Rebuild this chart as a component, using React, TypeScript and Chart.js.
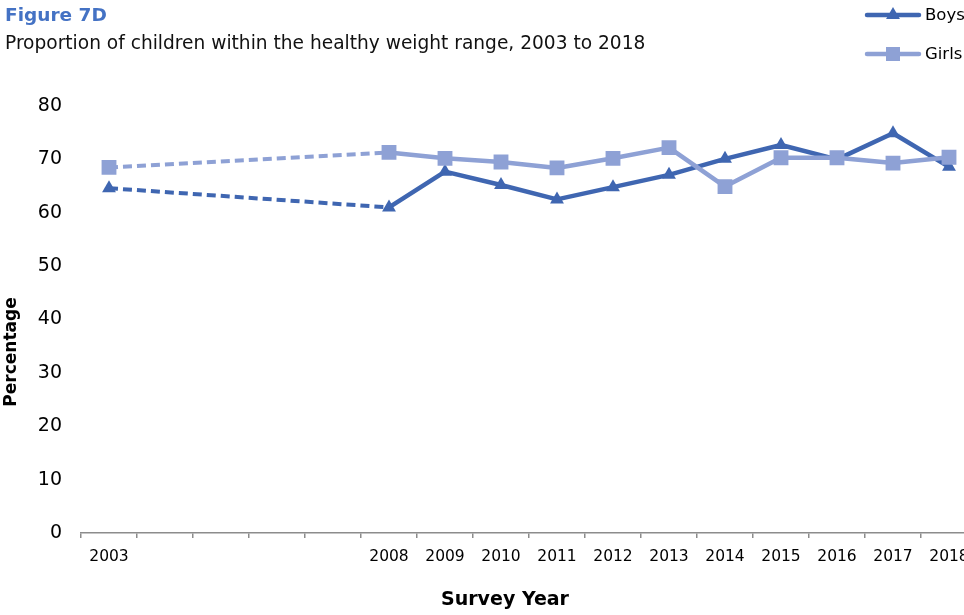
import React, { useEffect, useRef } from "react";
import { Chart, registerables } from "chart.js";

Chart.register(...registerables);

const years = ["2003", "", "", "", "", "2008", "2009", "2010", "2011", "2012", "2013", "2014", "2015", "2016", "2017", "2018"];
const boys = [64.6, null, null, null, null, 61.0, 67.7, 65.2, 62.5, 64.8, 67.1, 70.1, 72.7, 70.0, 74.9, 68.6];
const girls = [68.5, null, null, null, null, 71.3, 70.2, 69.5, 68.4, 70.2, 72.2, 64.9, 70.3, 70.3, 69.3, 70.4];
const yTicks = [0, 10, 20, 30, 40, 50, 60, 70, 80];

const BOYS_COLOR = "#3F66B1";
const GIRLS_COLOR = "#8EA1D5";
const FONT = "'DejaVu Sans', Verdana, sans-serif";
const GAP_END = years.indexOf("2008");

const overlayPlugin = {
  id: "overlay",
  afterDraw(chart: any) {
    const ctx = chart.ctx as CanvasRenderingContext2D;
    ctx.save();
    ctx.textBaseline = "alphabetic";
    ctx.textAlign = "left";
    ctx.fillStyle = "#4472C4";
    ctx.font = `bold 18.5px ${FONT}`;
    ctx.fillText("Figure 7D", 5, 21);
    ctx.fillStyle = "#111";
    ctx.font = `18.6px ${FONT}`;
    ctx.fillText("Proportion of children within the healthy weight range, 2003 to 2018", 5, 49);

    ctx.font = `bold 19px ${FONT}`;
    ctx.textAlign = "center";
    ctx.textBaseline = "middle";
    ctx.fillStyle = "#000";
    ctx.fillText("Survey Year", 505, 600);
    ctx.save();
    ctx.translate(12, 352);
    ctx.rotate(-Math.PI / 2);
    ctx.font = `bold 17px ${FONT}`;
    ctx.fillText("Percentage", 0, 0);
    ctx.restore();

    const items = [
      { label: "Boys", color: BOYS_COLOR, y: 15, shape: "triangle" },
      { label: "Girls", color: GIRLS_COLOR, y: 54, shape: "square" },
    ];
    for (const it of items) {
      ctx.strokeStyle = it.color;
      ctx.lineWidth = 4.5;
      ctx.lineCap = "round";
      ctx.beginPath();
      ctx.moveTo(867, it.y);
      ctx.lineTo(919, it.y);
      ctx.stroke();
      ctx.fillStyle = it.color;
      const cx = 893;
      if (it.shape === "triangle") {
        const r = 8;
        ctx.beginPath();
        ctx.moveTo(cx, it.y - r);
        ctx.lineTo(cx + r * 0.866, it.y + r * 0.5);
        ctx.lineTo(cx - r * 0.866, it.y + r * 0.5);
        ctx.closePath();
        ctx.fill();
      } else {
        ctx.fillRect(cx - 7, it.y - 7, 14, 14);
      }
      ctx.fillStyle = "#000";
      ctx.font = `16.5px ${FONT}`;
      ctx.textAlign = "left";
      ctx.textBaseline = "middle";
      ctx.fillText(it.label, 925, it.y + 1);
    }
    ctx.restore();
  },
};

export default function App() {
  const ref = useRef<HTMLCanvasElement | null>(null);
  useEffect(() => {
    if (!ref.current) return;
    const isGap = (ctx: any) => ctx.p1DataIndex === GAP_END;
    const segment = {
      borderDash: (ctx: any) => (isGap(ctx) ? [9, 5] : undefined),
      borderWidth: (ctx: any) => (isGap(ctx) ? 4 : undefined),
    };
    const chart = new Chart(ref.current, {
      type: "line",
      data: {
        labels: years,
        datasets: [
          {
            label: "Girls",
            data: girls,
            borderColor: GIRLS_COLOR,
            backgroundColor: GIRLS_COLOR,
            borderWidth: 4.5,
            pointStyle: "rect",
            pointRadius: 10.5,
            pointBorderWidth: 0,
            pointBackgroundColor: GIRLS_COLOR,
            spanGaps: true,
            borderJoinStyle: "round",
            borderCapStyle: "butt",
            segment,
            order: 0,
          },
          {
            label: "Boys",
            data: boys,
            borderColor: BOYS_COLOR,
            backgroundColor: BOYS_COLOR,
            borderWidth: 4.5,
            pointStyle: "triangle",
            pointRadius: 8,
            pointBorderWidth: 0,
            pointBackgroundColor: BOYS_COLOR,
            spanGaps: true,
            borderJoinStyle: "round",
            borderCapStyle: "butt",
            segment,
            order: 1,
          },
        ],
      },
      options: {
        responsive: false,
        animation: false,
        layout: { padding: { top: 106, left: 0, right: 13, bottom: 0 } },
        plugins: {
          legend: { display: false },
          title: { display: false },
          tooltip: { enabled: false },
        },
        scales: {
          x: {
            type: "category",
            offset: true,
            grid: {
              offset: true,
              drawOnChartArea: false,
              drawTicks: true,
              tickLength: 5,
              color: "#8c8c8c",
              lineWidth: 1.5,
            },
            border: { display: true, color: "#8c8c8c", width: 1.5 },
            ticks: {
              autoSkip: false,
              maxRotation: 0,
              padding: 10,
              color: "#000",
              font: { family: FONT, size: 15.5 },
            },
            afterFit: (s: any) => {
              s.height = 82;
            },
          },
          y: {
            min: 0,
            max: 80,
            afterBuildTicks: (s: any) => {
              s.ticks = yTicks.map((v) => ({ value: v }));
            },
            grid: { display: false, drawTicks: false },
            border: { display: false },
            ticks: {
              padding: 19,
              color: "#000",
              font: { family: FONT, size: 19 },
            },
            afterFit: (s: any) => {
              s.width = 81;
            },
          },
        },
      },
      plugins: [overlayPlugin],
    } as any);
    return () => chart.destroy();
  }, []);
  return (
    <div style={{ position: "fixed", left: 0, top: 0, width: 964, height: 615, overflow: "hidden", background: "#fff" }}>
      <canvas ref={ref} width={990} height={615} style={{ width: 990, height: 615, display: "block" }} />
    </div>
  );
}
